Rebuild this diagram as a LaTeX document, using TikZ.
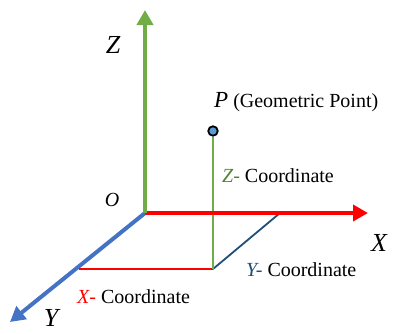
\documentclass[tikz,border=0pt]{standalone}
\usepackage{xcolor}
\usepackage{fontspec}
\setmainfont{Liberation Serif}
\usepackage{tikz}
\usetikzlibrary{arrows.meta, positioning}
\definecolor{axisgreen}{HTML}{70AD47}
\definecolor{labelgreen}{HTML}{548235}
\definecolor{axisred}{HTML}{FF0000}
\definecolor{axisblue}{HTML}{4472C4}
\definecolor{projblue}{HTML}{1F4E79}
\definecolor{pointblue}{HTML}{5B9BD5}

\begin{document}
\begin{tikzpicture}[
    x=1pt, y=1pt,
    axis/.style={line width=4pt, draw=#1, -{Triangle[length=15pt, width=16pt]}},
    proj/.style={line width=1.8pt, draw=#1},
    axislabel/.style={font=\fontsize{26}{30}\selectfont\itshape, inner sep=0pt},
    coordlabel/.style={font=\fontsize{20}{24}\selectfont, anchor=base west, inner sep=0pt},
    point/.style={circle, draw=black, line width=1.8pt, fill=pointblue,
        minimum size=9.5pt, inner sep=0pt},
]
\useasboundingbox (0,0) rectangle (394,333);

\coordinate (origin) at (145,120);
\coordinate (ztip) at (145,323);
\coordinate (xtip) at (368,120);
\coordinate (ytip) at (10,11);
\coordinate (foot) at (213,64);
\coordinate (xfoot) at (79,64);
\coordinate (yfoot) at (280,120);

\node[point] (P) at (213,202) {};

\draw[axis=axisblue] (origin) -- (ytip);
\draw[proj=axisred] (xfoot) -- (foot);
\draw[proj=projblue] (foot) -- (yfoot);
\draw[proj=axisgreen] (P.south) -- (foot);
\draw[axis=axisred] (origin) -- (xtip);
\draw[axis=axisgreen] (origin) -- (ztip);

\node[axislabel] (zlabel) at (113,288) {Z};
\node[axislabel] (xlabel) at (379,90) {X};
\node[axislabel, anchor=base] (ylabel) at (51,7) {Y};
\node[font=\fontsize{20}{24}\selectfont\itshape, inner sep=0pt] (olabel) at (112,133) {O};

\node[coordlabel] (plabel) at (214,226) {{\fontsize{23}{26}\selectfont\itshape P} (Geometric Point)};
\node[coordlabel] (zcoord) at (222,151) {{\color{labelgreen}\itshape Z-} Coordinate};
\node[coordlabel] (ycoord) at (246,57) {{\color{projblue}\itshape Y-} Coordinate};
\node[coordlabel] (xcoord) at (77,30) {{\color{axisred}\itshape X-} Coordinate};

\end{tikzpicture}
\end{document}
